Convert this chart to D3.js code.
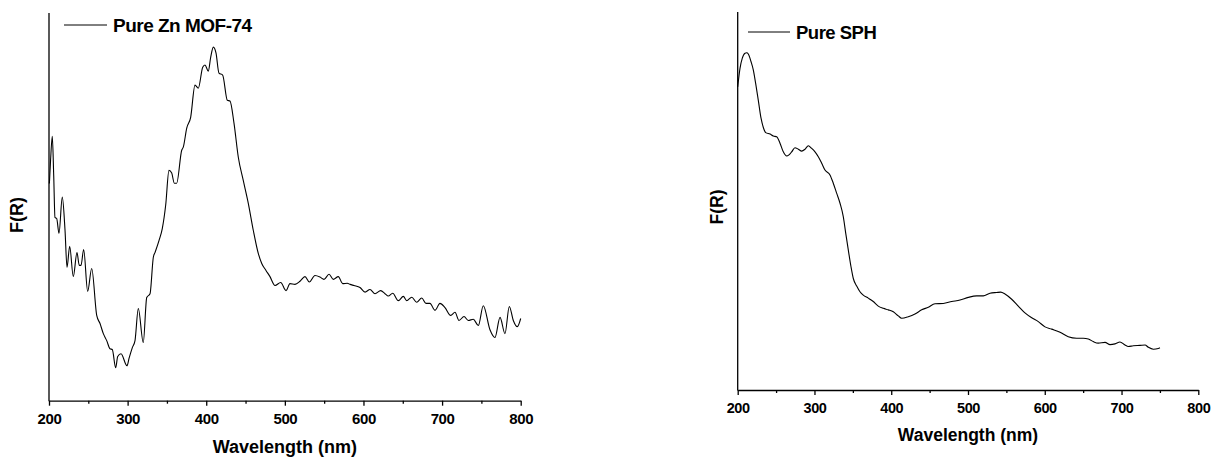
<!DOCTYPE html>
<html>
<head>
<meta charset="utf-8">
<script src="https://cdn.jsdelivr.net/npm/d3@7"></script>
<style>
  body { margin: 0; background: #fff; }
  svg { display: block; font-family: "Liberation Sans", Arial, sans-serif; font-weight: bold; }
</style>
</head>
<body>
<svg id="chart" width="1213" height="461"></svg>
<script>
// --- data (F(R) in arbitrary units) ---
const xMajorTicks = [200, 300, 400, 500, 600, 700, 800];
const xMinorTicks = [250, 350, 450, 550, 650, 750];

const mofWavelength = [200.5, 202, 204.2, 206, 207.6, 209.8, 212.7, 216.9, 220.4, 222.9, 226.3, 230.9,
  235.6, 238.5, 240.7, 244.1, 249.2, 254.3, 260.7, 264.9, 269.1, 273.4, 277.6, 280.5, 284.8, 287.4,
  291.6, 299.2, 301.8, 306.0, 309.4, 313.6, 319.9, 324.3, 328.5, 332.7, 334.8, 339.9, 344.1, 348.4,
  352.6, 356.1, 359.4, 362.4, 368.8, 370.8, 375.2, 380.2, 385.7, 389.9, 395.5, 398.4, 402.6, 405.7,
  409.0, 412.4, 416.2, 420.9, 426.8, 430.2, 435.3, 440.8, 447.1, 453.5, 459.9, 466.2, 470.6, 476.0,
  481.1, 487.5, 494.7, 501.5, 506.5, 512.9, 519.3, 525.6, 531.1, 538.3, 544.7, 549.8, 556.2, 561.6,
  568.0, 573.6, 579.4, 582.9, 588.0, 595.6, 602.0, 608.3, 614.7, 621.9, 627.4, 631.6, 637.2, 644.3,
  650.7, 655.0, 661.4, 667.7, 674.1, 679.5, 684.6, 691.0, 697.3, 703.7, 711.0, 716.4, 721.5, 727.9,
  733.3, 739.7, 746.1, 752.4, 760.9, 767.3, 773.7, 780.0, 785.5, 790.6, 795.7, 800.0];
const mofFR = [56, 62, 68.2, 58, 47.3, 47.0, 43.2, 52.5, 43.9, 34.4, 39.8, 32.0,
  38.2, 34.9, 34.9, 39.0, 28.2, 34.1, 22.0, 19.9, 17.3, 15.5, 13.4, 13.2, 8.5, 11.4,
  12.1, 9.0, 10.9, 13.7, 15.5, 23.8, 15.0, 26.6, 27.6, 37.0, 38.2, 41.3, 44.4, 50.4,
  59.4, 58.7, 56.1, 56.1, 64.6, 65.4, 70.3, 73.1, 81.4, 80.6, 86.0, 86.6, 85.0, 88.6,
  91.2, 89.7, 84.5, 84.0, 77.5, 77.3, 71.6, 62.8, 56.8, 50.9, 43.9, 38.0, 35.4, 33.6,
  32.0, 29.7, 30.5, 28.4, 30.2, 30.0, 30.8, 32.0, 30.6, 32.3, 31.9, 31.3, 32.6, 31.3,
  32.0, 30.2, 30.3, 30.0, 29.7, 29.2, 28.0, 28.7, 27.6, 28.4, 27.6, 27.0, 27.7, 25.8,
  26.9, 25.8, 26.7, 25.4, 26.5, 25.1, 25.1, 23.3, 25.1, 24.0, 22.0, 22.8, 20.7, 21.7,
  20.7, 21.0, 19.4, 24.5, 18.3, 16.3, 21.5, 17.3, 24.3, 20.7, 19.1, 21.2];

const sphWavelength = [200.0, 203.0, 206.0, 209.5, 211.7, 213.8, 217.3, 220.3, 223.4, 226.8, 230.4,
  233.3, 236.5, 242.1, 246.4, 250.8, 255.1, 259.4, 263.8, 266.8, 270.3, 274.6, 278.9, 283.4, 287.7,
  292.0, 296.4, 300.7, 305.0, 309.4, 313.7, 320.2, 324.5, 329.0, 333.3, 337.6, 340.7, 344.1, 347.6,
  350.6, 355.0, 359.3, 363.6, 370.1, 376.6, 383.1, 389.7, 396.2, 402.7, 409.2, 413.6, 422.2, 430.9,
  439.7, 448.3, 457.0, 467.8, 478.8, 489.6, 500.4, 511.3, 519.9, 528.6, 537.4, 542.6, 548.2, 556.9,
  565.5, 574.2, 583.0, 591.6, 600.3, 609.0, 619.9, 630.6, 641.6, 650.2, 656.7, 663.2, 669.7, 678.5,
  685.0, 691.5, 698.0, 704.5, 708.8, 715.3, 724.1, 730.6, 734.9, 741.4, 747.9, 750.0];
const sphFR = [80.2, 85.1, 87.8, 89.1, 89.2, 88.9, 86.9, 84.7, 81.1, 76.7, 71.9,
  69.5, 68.1, 67.7, 67.2, 67.0, 65.3, 63.0, 61.9, 62.2, 63.0, 64.1, 63.7, 63.2, 63.7,
  64.6, 63.9, 63.0, 61.7, 60.0, 58.2, 56.9, 54.7, 52.0, 49.4, 45.8, 41.5, 37.0, 32.6,
  29.5, 27.5, 26.0, 25.1, 24.3, 23.4, 22.2, 21.6, 21.2, 20.7, 19.6, 19.0, 19.4, 20.1,
  21.2, 21.9, 22.8, 22.9, 23.4, 23.8, 24.5, 24.9, 24.9, 25.6, 25.8, 25.9, 25.4, 24.0,
  22.2, 20.4, 19.1, 18.1, 16.7, 16.1, 15.3, 14.1, 13.7, 13.7, 13.5, 12.8, 12.4, 12.6,
  12.0, 12.2, 12.7, 11.9, 11.5, 11.7, 11.8, 11.9, 11.3, 10.8, 11.0, 11.2];

const panels = [
  { label: 'Pure Zn MOF-74', xs: mofWavelength, ys: mofFR,
    left: 49, right: 520.7, top: 13, bottom: 400.7,
    tickFont: 15, titleFont: 18, legendFont: 19,
    tickBase: 424, titleBase: 453, yLabelX: 23, yLabelY: 215,
    legend: { x1: 64, x2: 107, y: 25, tx: 113, ty: 31.5 } },
  { label: 'Pure SPH', xs: sphWavelength, ys: sphFR,
    left: 737.7, right: 1198.3, top: 12, bottom: 390,
    tickFont: 14.5, titleFont: 17.5, legendFont: 18.5,
    tickBase: 413, titleBase: 441, yLabelX: 723, yLabelY: 207,
    legend: { x1: 748, x2: 790, y: 32, tx: 796, ty: 39 } }
];

const svg = d3.select('#chart');

panels.forEach(p => {
  const x = d3.scaleLinear().domain([200, 800]).range([p.left, p.right]);
  const y = d3.scaleLinear().domain([0, 100]).range([p.bottom, p.top]);
  const g = svg.append('g');

  // minor ticks
  g.append('g')
    .attr('transform', `translate(0,${p.bottom})`)
    .call(d3.axisBottom(x).tickValues(xMinorTicks).tickSize(3).tickFormat(''))
    .call(a => a.select('.domain').remove())
    .call(a => a.selectAll('line').attr('stroke', '#000').attr('stroke-width', 1.3));

  // major ticks + labels
  const xa = g.append('g')
    .attr('transform', `translate(0,${p.bottom})`)
    .call(d3.axisBottom(x).tickValues(xMajorTicks).tickSize(5).tickSizeOuter(0).tickFormat(d3.format('d')));
  xa.select('.domain').attr('stroke', '#000').attr('stroke-width', 1.3);
  xa.selectAll('line').attr('stroke', '#000').attr('stroke-width', 1.3);
  xa.selectAll('text')
    .attr('y', p.tickBase - p.bottom)
    .attr('dy', null)
    .attr('fill', '#000')
    .style('font-family', '"Liberation Sans", Arial, sans-serif')
    .style('font-weight', 'bold')
    .style('font-size', p.tickFont + 'px')
    .style('letter-spacing', '-0.4px');

  // y axis line (no ticks)
  g.append('line')
    .attr('x1', p.left).attr('x2', p.left)
    .attr('y1', p.top).attr('y2', p.bottom + 0.6)
    .attr('stroke', '#000').attr('stroke-width', 1.3);

  // axis titles
  g.append('text')
    .attr('x', (p.left + p.right) / 2).attr('y', p.titleBase)
    .attr('text-anchor', 'middle')
    .style('font-size', p.titleFont + 'px')
    .text('Wavelength (nm)');

  g.append('text')
    .attr('transform', `translate(${p.yLabelX},${p.yLabelY}) rotate(-90)`)
    .attr('text-anchor', 'middle')
    .style('font-size', p.titleFont + 'px')
    .text('F(R)');

  // curve
  const line = d3.line()
    .x((d, i) => x(p.xs[i]))
    .y(d => y(d))
    .curve(d3.curveMonotoneX);

  g.append('path')
    .datum(p.ys)
    .attr('d', line)
    .attr('fill', 'none')
    .attr('stroke', '#000')
    .attr('stroke-width', 1.1)
    .attr('stroke-linejoin', 'round');

  // legend
  g.append('line')
    .attr('x1', p.legend.x1).attr('x2', p.legend.x2)
    .attr('y1', p.legend.y).attr('y2', p.legend.y)
    .attr('stroke', '#000').attr('stroke-width', 1);
  g.append('text')
    .attr('x', p.legend.tx).attr('y', p.legend.ty)
    .style('font-size', p.legendFont + 'px')
    .style('letter-spacing', '-0.5px')
    .text(p.label);
});
</script>
</body>
</html>
